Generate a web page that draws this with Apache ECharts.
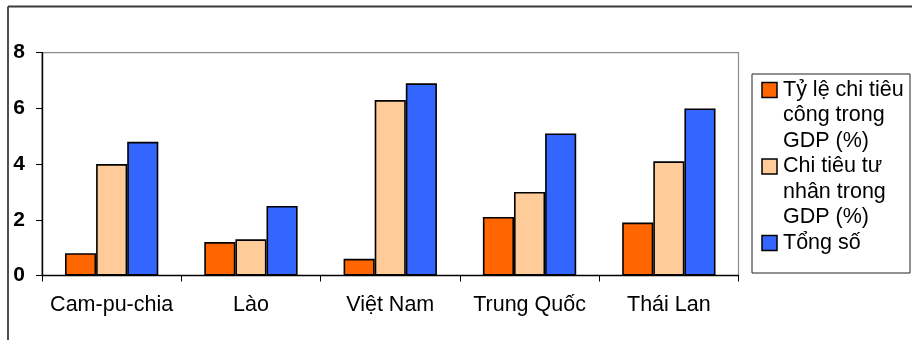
<!DOCTYPE html>
<html>
<head>
<meta charset="utf-8">
<script src="https://cdn.jsdelivr.net/npm/echarts@6/dist/echarts.min.js"></script>
<style>
html,body{margin:0;padding:0;background:#fff;}
#chart{width:912px;height:340px;}
</style>
</head>
<body>
<div id="chart"></div>
<script>
var categories = ['Cam-pu-chia', 'Lào', 'Việt Nam', 'Trung Quốc', 'Thái Lan'];
var publicSpending = [0.8, 1.2, 0.6, 2.1, 1.9];
var privateSpending = [4.0, 1.3, 6.3, 3.0, 4.1];
var totalSpending = [4.8, 2.5, 6.9, 5.1, 6.0];
var seriesNames = ['Tỷ lệ chi tiêu công trong GDP (%)', 'Chi tiêu tư nhân trong GDP (%)', 'Tổng số'];
var legendLabels = ['Tỷ lệ chi tiêu\ncông trong\nGDP (%)', 'Chi tiêu tư\nnhân trong\nGDP (%)', 'Tổng số'];
var colors = ['#FF6600', '#FFCC99', '#3366FF'];
var yTicks = { min: 0, max: 8, interval: 2 };

var FONT = 'Liberation Sans, Arial, sans-serif';
var chart = echarts.init(document.getElementById('chart'), null, { renderer: 'canvas' });

var dataSets = [publicSpending, privateSpending, totalSpending];
var series = dataSets.map(function (d, i) {
  return {
    name: seriesNames[i],
    type: 'bar',
    data: d,
    barGap: '0%',
    barCategoryGap: '33%',
    itemStyle: { color: colors[i], borderColor: '#000', borderWidth: 1.6 },
    emphasis: { disabled: true },
    animation: false
  };
});

// legend drawn as graphic (icon aligned with first text line)
var legendGraphics = [
  { type: 'rect', shape: { x: 752, y: 74, width: 158, height: 199 }, style: { fill: '#fff', stroke: '#222', lineWidth: 1 }, z: 10 }
];
var lineH = 25.5;
var firstTop = 77.25;
var lineOffset = 0;
legendLabels.forEach(function (lbl, i) {
  var top = firstTop + lineOffset * lineH;
  var center = top + lineH / 2;
  legendGraphics.push({
    type: 'rect',
    shape: { x: 762, y: center - 7.5, width: 15, height: 15 },
    style: { fill: colors[i], stroke: '#000', lineWidth: 1.5 },
    z: 11
  });
  legendGraphics.push({
    type: 'text',
    x: 783, y: top,
    style: { text: lbl, font: '21.5px ' + FONT, fill: '#000', lineHeight: lineH, verticalAlign: 'top', align: 'left' },
    z: 11
  });
  lineOffset += lbl.split('\n').length;
});

// outer chart frame (left and top edges visible)
var frame = [
  { type: 'line', shape: { x1: 8, y1: 6.5, x2: 912, y2: 6.5 }, style: { stroke: '#3a3a3a', lineWidth: 1.8 }, z: 10 },
  { type: 'line', shape: { x1: 8, y1: 6.5, x2: 8, y2: 340 }, style: { stroke: '#3a3a3a', lineWidth: 1.8 }, z: 10 }
];

chart.setOption({
  animation: false,
  backgroundColor: '#fff',
  textStyle: { fontFamily: FONT },
  grid: {
    left: 42, right: 173.5, top: 52.7, bottom: 64.5,
    show: true, borderColor: '#8c8c8c', borderWidth: 1.2, backgroundColor: 'transparent'
  },
  xAxis: {
    type: 'category',
    data: categories,
    axisLine: { show: true, lineStyle: { color: '#000', width: 1.4 } },
    axisTick: { show: true, length: 6, lineStyle: { color: '#000', width: 1 } },
    axisLabel: { fontSize: 21.5, color: '#000', margin: 19, fontFamily: FONT, interval: 0, hideOverlap: false },
    splitLine: { show: false }
  },
  yAxis: {
    type: 'value',
    min: yTicks.min, max: yTicks.max, interval: yTicks.interval,
    axisLine: { show: true, lineStyle: { color: '#000', width: 1.4 } },
    axisTick: { show: true, length: 6, lineStyle: { color: '#000', width: 1 } },
    axisLabel: { fontSize: 21, fontWeight: 'bold', color: '#000', margin: 17, fontFamily: FONT },
    splitLine: { show: false }
  },
  series: series,
  graphic: frame.concat(legendGraphics)
});
</script>
</body>
</html>
